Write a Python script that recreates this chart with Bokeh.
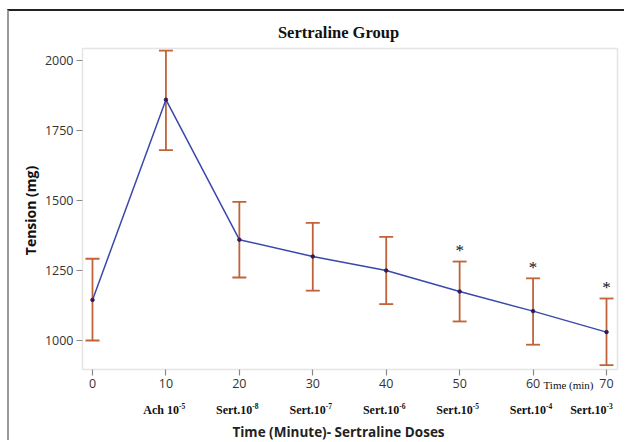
import math
from bokeh.plotting import figure
from bokeh.models import (Range1d, FixedTicker, LinearAxis, Whisker, TeeHead, ColumnDataSource,
                          BoxAnnotation, Label)
from bokeh.core.properties import value
from bokeh.embed import file_html
from bokeh.resources import INLINE

# ---- data ----
times = [0, 10, 20, 30, 40, 50, 60, 70]
means = [1145, 1860, 1360, 1300, 1250, 1175, 1105, 1030]
upper = [1292, 2035, 1495, 1420, 1370, 1282, 1222, 1150]
lower = [1000, 1680, 1225, 1178, 1130, 1068, 985, 912]
dose_times = [10, 20, 30, 40, 50, 60, 70]
dose_base = ["Ach 10", "Sert.10", "Sert.10", "Sert.10", "Sert.10", "Sert.10", "Sert.10"]
dose_exp = ["-5", "-8", "-7", "-6", "-5", "-4", "-3"]
sig_times = [50, 60, 70]
sig_upper = [1282, 1222, 1150]
x_ticks = [0, 10, 20, 30, 40, 50, 60, 70]
y_ticks = [1000, 1250, 1500, 1750, 2000]
unit_label = "Time (min)"
title_text = "Sertraline Group"
x_title = "Time (Minute)- Sertraline Doses"
y_title = "Tension (mg)"

# ---- layout constants (page pixels) ----
CANVAS_L, CANVAS_T, CANVAS_W, CANVAS_H = 9, 11, 617, 431
PX_T0, PX_PER_T = 92.0, 514.0 / 70.0          # x pixel of t=0, pixels per minute
PY_1000, PX_PER_MG = 340.0, 0.28              # y pixel of 1000 mg, pixels per mg
BOX_L, BOX_R, BOX_T, BOX_B = 82, 617, 48, 369  # visible plot box
LABEL_SHIFT, LABEL_RIGHT_LIMIT, EXP_W = 13, 614, 8


def dx(px):
    return (px - PX_T0) / PX_PER_T


def dy(py):
    return 1000 + (PY_1000 - py) / PX_PER_MG


p = figure(width=CANVAS_W, height=CANVAS_H, output_backend="svg", toolbar_location=None,
           x_range=Range1d(dx(CANVAS_L), dx(CANVAS_L + CANVAS_W)),
           y_range=Range1d(dy(CANVAS_T + CANVAS_H), dy(CANVAS_T)),
           x_axis_type=None, y_axis_type=None,
           min_border_left=0, min_border_right=0, min_border_top=0, min_border_bottom=0)
p.styles = {"margin-left": "7px", "margin-top": "9px",
            "border-top": "2px solid #222222", "border-left": "2px solid #9a9a9a"}
p.grid.visible = False
p.outline_line_color = None

XB0, XB1, YB0, YB1 = dx(BOX_L), dx(BOX_R), dy(BOX_B), dy(BOX_T)

xax = LinearAxis(ticker=FixedTicker(ticks=x_ticks), fixed_location=YB0)
yax = LinearAxis(ticker=FixedTicker(ticks=y_ticks), fixed_location=XB0)
for ax in (xax, yax):
    ax.axis_line_color = None
    ax.major_tick_line_color = "#888888"
    ax.major_tick_line_width = 1.2
    ax.major_tick_in = 0
    ax.major_tick_out = 6
    ax.minor_tick_line_color = None
    ax.major_label_text_font = "Open Sans"
    ax.major_label_text_font_size = "12.5px"
    ax.major_label_text_color = "#333333"
    ax.major_label_standoff = 3
p.add_layout(xax, "below")
p.add_layout(yax, "left")

p.add_layout(BoxAnnotation(left=XB0, right=XB1, bottom=YB0, top=YB1, fill_color=None,
                           line_color="#A8A8A8", line_width=1.5))

src = ColumnDataSource(dict(t=times, m=means, u=upper, l=lower))
err = "#C0623A"
p.add_layout(Whisker(source=src, base="t", upper="u", lower="l", line_color=err, line_width=1.8,
                     upper_head=TeeHead(size=14, line_color=err, line_width=1.8),
                     lower_head=TeeHead(size=14, line_color=err, line_width=1.8)))
p.line("t", "m", source=src, line_color="#3A48AC", line_width=1.5)
p.scatter("t", "m", source=src, size=3.5, color="#2B1E5E")

p.text(x=sig_times, y=sig_upper, text=["*"] * len(sig_times), text_align="center",
       text_baseline="middle", y_offset=-11, text_font=value("Liberation Serif"),
       text_font_size="17px", text_color="#111111")

# titles
p.add_layout(Label(x=dx(338), y=dy(32), text=title_text, text_align="center",
                   text_baseline="middle", text_font="Liberation Serif", text_font_style="bold",
                   text_font_size="16.5px", text_color="#111111"))
p.add_layout(Label(x=dx(338), y=dy(431), text=x_title, text_align="center",
                   text_baseline="middle", text_font="Open Sans", text_font_style="bold",
                   text_font_size="13.5px", text_color="#222222"))
p.add_layout(Label(x=dx(30), y=dy(210), text=y_title, text_align="center",
                   text_baseline="middle", angle=math.pi / 2, text_font="Open Sans",
                   text_font_style="bold", text_font_size="14px", text_color="#111111"))
p.add_layout(Label(x=dx(568), y=dy(384), text=unit_label, text_align="center",
                   text_baseline="middle", text_font="Liberation Serif",
                   text_font_size="11px", text_color="#111111"))

# dose labels: base text + superscript exponent (kept inside the right edge)
n = len(dose_times)
offs = [min(LABEL_SHIFT, LABEL_RIGHT_LIMIT - EXP_W - (PX_T0 + t * PX_PER_T)) for t in dose_times]
dsrc = ColumnDataSource(dict(t=dose_times, yb=[dy(409)] * n, ye=[dy(405)] * n,
                             base=dose_base, exp=dose_exp, xo=offs))
p.text(x="t", y="yb", text="base", x_offset="xo", source=dsrc, text_align="right",
       text_baseline="middle", text_font=value("Liberation Serif"), text_font_style="bold",
       text_font_size="12px", text_color="#111111")
p.text(x="t", y="ye", text="exp", x_offset="xo", source=dsrc, text_align="left",
       text_baseline="middle", text_font=value("Liberation Serif"), text_font_style="bold",
       text_font_size="7.5px", text_color="#111111")

open("out.html", "w").write(file_html(p, INLINE))
